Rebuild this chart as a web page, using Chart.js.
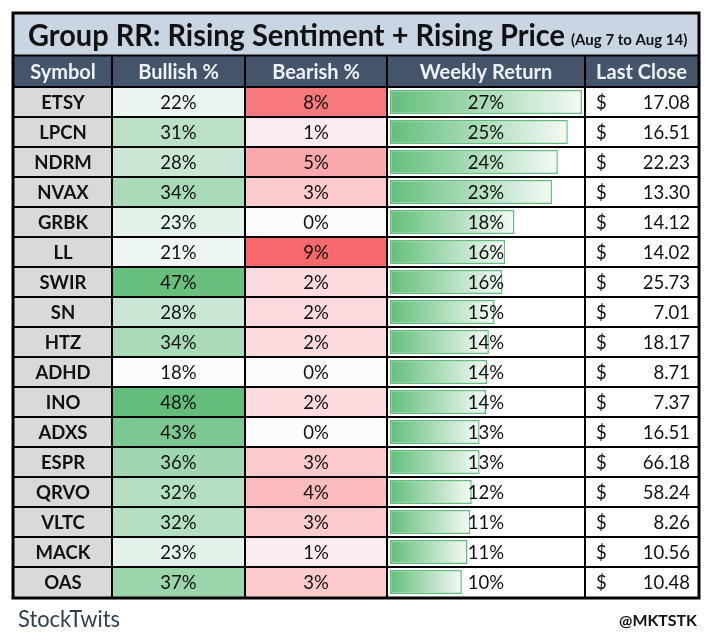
<!DOCTYPE html>
<html>
<head>
<meta charset="utf-8">
<script src="https://cdn.jsdelivr.net/npm/chart.js@4.4.1/dist/chart.umd.min.js"></script>
<style>
  html, body { margin: 0; padding: 0; background: #fff; }
</style>
</head>
<body>
<canvas id="myChart" width="728" height="640"></canvas>
<script>
// data
const symbols = ["ETSY", "LPCN", "NDRM", "NVAX", "GRBK", "LL", "SWIR", "SN", "HTZ", "ADHD", "INO", "ADXS", "ESPR", "QRVO", "VLTC", "MACK", "OAS"];
const bullish = [22, 31, 28, 34, 23, 21, 47, 28, 34, 18, 48, 43, 36, 32, 32, 23, 37];
const bearish = [8, 1, 5, 3, 0, 9, 2, 2, 2, 0, 2, 0, 3, 4, 3, 1, 3];
const weeklyReturn = [27.0, 25.0, 23.6, 22.8, 17.5, 16.2, 15.8, 14.7, 13.9, 13.7, 13.5, 12.6, 12.6, 11.5, 11.3, 10.9, 10.1];
const lastClose = [17.08, 16.51, 22.23, 13.30, 14.12, 14.02, 25.73, 7.01, 18.17, 8.71, 7.37, 16.51, 66.18, 58.24, 8.26, 10.56, 10.48];
const headers = ["Symbol", "Bullish %", "Bearish %", "Weekly Return", "Last Close"];
const title = "Group RR: Rising Sentiment + Rising Price";
const subtitle = "(Aug 7 to Aug 14)";

// layout of the table columns on the x scale
const colEdges = [0, 98, 231, 373, 571, 684];
const wrStart = 376;   // data bar starts a bit inside the cell
const wrLen = 192;     // length of the longest bar
const wrMax = Math.max(...weeklyReturn);

const FONT = "Lato, 'Open Sans', sans-serif";
const white = [252, 252, 255];
const green = [99, 190, 123];
const red = [248, 105, 107];

function mix(a, b, t) {
  return "rgb(" + a.map((v, k) => Math.round(v + (b[k] - v) * t)).join(",") + ")";
}
function scaleColor(vals, to) {
  const lo = Math.min(...vals), hi = Math.max(...vals);
  return vals.map(v => mix(white, to, (v - lo) / (hi - lo)));
}

const tablePlugin = {
  id: "table",
  beforeDraw(chart) {
    const c = chart.ctx;
    c.save();
    c.fillStyle = "#fff";
    c.fillRect(0, 0, chart.width, chart.height);
    const x = chart.scales.x;
    const L = x.getPixelForValue(colEdges[0]), R = x.getPixelForValue(colEdges[5]);
    // title band
    c.fillStyle = "#c8d5e3";
    c.fillRect(L, 14, R - L, 41);
    // header band
    c.fillStyle = "#44546a";
    c.fillRect(L, 56, R - L, chart.chartArea.top - 56);
    c.restore();
  },
  afterDatasetsDraw(chart) {
    const c = chart.ctx;
    const x = chart.scales.x, y = chart.scales.y;
    const L = x.getPixelForValue(colEdges[0]), R = x.getPixelForValue(colEdges[5]);
    const top = chart.chartArea.top, bottom = chart.chartArea.bottom;
    const band = y.getPixelForValue(1) - y.getPixelForValue(0);
    c.save();

    // grid lines
    c.strokeStyle = "#000";
    c.lineWidth = 2;
    for (let i = 1; i < symbols.length; i++) {
      const yy = Math.round(y.getPixelForValue(i) - band / 2);
      c.beginPath(); c.moveTo(L, yy); c.lineTo(R, yy); c.stroke();
    }
    for (let k = 1; k < colEdges.length - 1; k++) {
      const xx = Math.round(x.getPixelForValue(colEdges[k]));
      c.beginPath(); c.moveTo(xx, 56); c.lineTo(xx, bottom); c.stroke();
    }
    c.beginPath(); c.moveTo(L, 55.5); c.lineTo(R, 55.5); c.stroke();
    c.beginPath(); c.moveTo(L, top); c.lineTo(R, top); c.stroke();
    c.lineWidth = 3;
    c.strokeRect(L - 1, 13, R - L + 2, bottom - 13 + 1);

    // title
    c.fillStyle = "#111";
    c.textBaseline = "alphabetic";
    c.textAlign = "left";
    c.font = "bold 30px " + FONT;
    c.fillText(title, 28, 46, 537);
    c.font = "bold 15px " + FONT;
    c.fillText(subtitle, 571, 45, 119);

    // headers
    c.fillStyle = "#eef2f7";
    c.textAlign = "center";
    c.textBaseline = "middle";
    c.font = "bold 20px " + FONT;
    headers.forEach((h, k) => {
      const cx = x.getPixelForValue((colEdges[k] + colEdges[k + 1]) / 2);
      c.fillText(h, cx, (56 + top) / 2 + 1);
    });

    // cell text
    const mid = k => x.getPixelForValue((colEdges[k] + colEdges[k + 1]) / 2);
    c.fillStyle = "#111";
    symbols.forEach((s, i) => {
      const yy = y.getPixelForValue(i) + 1;
      c.textAlign = "center";
      c.font = "bold 18.5px " + FONT;
      c.fillText(s, mid(0), yy);
      c.font = "18.5px " + FONT;
      c.fillText(bullish[i] + "%", mid(1), yy);
      c.fillText(bearish[i] + "%", mid(2), yy);
      c.fillText(Math.round(weeklyReturn[i]) + "%", mid(3), yy);
      c.textAlign = "left";
      c.fillText("$", x.getPixelForValue(colEdges[4] + 11), yy);
      c.textAlign = "right";
      c.fillText(lastClose[i].toFixed(2), x.getPixelForValue(colEdges[5] - 8), yy);
    });

    // footer
    c.textAlign = "left";
    c.fillStyle = "#2c3e50";
    c.font = "23px " + FONT;
    c.fillText("StockTwits", 18, 620, 102);
    c.textAlign = "right";
    c.fillStyle = "#111";
    c.font = "bold 16px " + FONT;
    c.fillText("@MKTSTK", 697, 621, 78);
    c.restore();
  }
};

const ctx = document.getElementById("myChart").getContext("2d");
new Chart(ctx, {
  type: "bar",
  data: {
    labels: symbols,
    datasets: [
      {
        label: "Weekly Return",
        data: weeklyReturn.map(v => [wrStart, wrStart + v / wrMax * wrLen]),
        barPercentage: 0.8,
        borderWidth: 1.5,
        borderColor: "#63be7b",
        borderSkipped: false,
        backgroundColor: c => {
          const chart = c.chart;
          if (!chart.chartArea || !c.raw) return "#63be7b";
          const x = chart.scales.x;
          const g = chart.ctx.createLinearGradient(x.getPixelForValue(c.raw[0]), 0, x.getPixelForValue(c.raw[1]), 0);
          g.addColorStop(0, "#63be7b");
          g.addColorStop(1, "#f4faf6");
          return g;
        },
      },
      {
        label: "Symbol",
        data: symbols.map(() => [colEdges[0], colEdges[1]]),
        backgroundColor: "#d9d9d9",
      },
      {
        label: "Bullish %",
        data: bullish.map(() => [colEdges[1], colEdges[2]]),
        backgroundColor: scaleColor(bullish, green),
      },
      {
        label: "Bearish %",
        data: bearish.map(() => [colEdges[2], colEdges[3]]),
        backgroundColor: scaleColor(bearish, red),
      },
    ],
  },
  options: {
    indexAxis: "y",
    responsive: false,
    animation: false,
    layout: { padding: { left: 14, right: 30, top: 87, bottom: 43 } },
    datasets: {
      bar: { grouped: false, categoryPercentage: 1, barPercentage: 1, borderWidth: 0 },
    },
    scales: {
      x: { type: "linear", min: 0, max: 684, display: false },
      y: { display: false, offset: true },
    },
    plugins: {
      legend: { display: false },
      tooltip: { enabled: false },
    },
  },
  plugins: [tablePlugin],
});
</script>
</body>
</html>
